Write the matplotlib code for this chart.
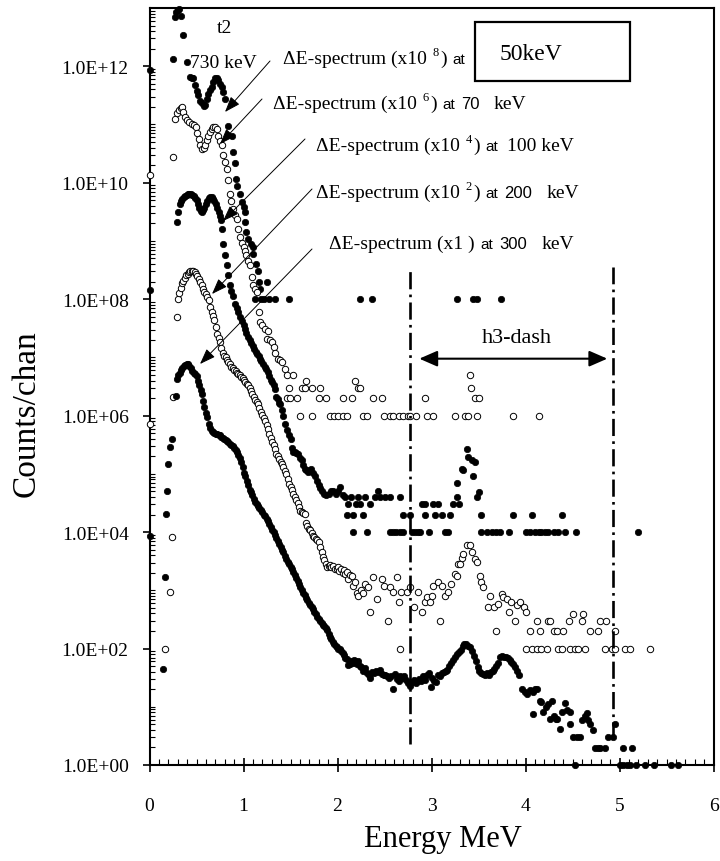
import numpy as np
import matplotlib
matplotlib.use('Agg')
import matplotlib.pyplot as plt
from matplotlib.ticker import FixedLocator, FuncFormatter, MultipleLocator
from matplotlib.patches import Rectangle, FancyArrowPatch

# ---------------- data: (energy MeV, log10 counts/chan as plotted) ----------------
# A: x10^8, 50 keV (filled)
a_pts = [(0.00,11.93),(0.253,12.13),(0.27,12.85),(0.285,12.93),(0.30,12.97),(0.315,12.99),(0.335,12.86),
 (0.36,12.53),(0.396,12.07),(0.43,11.82),(0.45,11.80),(0.466,11.79),(0.484,11.67),(0.50,11.58),(0.52,11.50),
 (0.54,11.41),(0.555,11.36),(0.575,11.32),(0.59,11.34),(0.61,11.44),(0.626,11.53),(0.645,11.59),(0.66,11.64),
 (0.68,11.73),(0.70,11.79),(0.715,11.79),(0.73,11.76),(0.75,11.70),(0.77,11.64),(0.785,11.56),(0.80,11.44),
 (0.84,10.98),(0.875,10.81),(0.89,10.53),(0.905,10.33),(0.92,10.07),(0.934,9.95),(0.96,9.80),(0.98,9.67),
 (1.00,9.58),(1.016,9.50),(1.02,9.33),(1.03,9.16),(1.05,9.04),(1.08,8.95),(1.10,8.90),(1.10,8.78),(1.13,8.60),
 (1.15,8.48),(1.17,8.30),(1.25,8.30),(1.175,8.18),
 (1.12,8.0),(1.19,8.0),(1.22,8.0),(1.27,8.0),(1.33,8.0),(1.48,8.0),(2.24,8.0),(2.37,8.0),(3.27,8.0),
 (3.44,8.0),(3.48,8.0),(3.74,8.0)]

# B: x10^6, 70 keV (open)
b_pts = [(0.00,10.13),(0.253,10.44),(0.27,11.10),(0.29,11.19),(0.31,11.24),(0.33,11.28),(0.345,11.30),(0.36,11.22),
 (0.38,11.13),(0.40,11.08),(0.42,11.04),(0.45,11.01),(0.47,10.99),(0.49,10.95),(0.51,10.86),(0.525,10.75),
 (0.54,10.64),(0.555,10.58),(0.575,10.60),(0.59,10.64),(0.61,10.73),(0.625,10.80),(0.64,10.87),(0.66,10.92),
 (0.68,10.96),(0.70,10.96),(0.715,10.93),(0.73,10.81),(0.75,10.72),(0.77,10.64),(0.785,10.47),(0.80,10.35),
 (0.82,10.24),(0.84,10.04),(0.856,9.81),(0.87,9.68),(0.89,9.55),(0.91,9.45),(0.93,9.38),(0.945,9.21),
 (0.96,9.07),(0.98,8.97),(1.00,8.89),(1.015,8.82),(1.03,8.75),(1.05,8.66),(1.07,8.58),(1.09,8.38),(1.10,8.24),
 (1.12,8.18),(1.14,8.13),(1.16,7.78),(1.18,7.61),(1.20,7.55),(1.23,7.49),(1.25,7.32),(1.26,7.46),(1.28,7.30),
 (1.30,7.27),(1.32,7.18),(1.34,7.08),(1.37,6.98),(1.39,6.95),(1.41,6.92),(1.44,6.80),(1.46,6.70),
 (1.53,6.70),(3.41,6.70),(1.67,6.60),(2.19,6.60),
 (1.48,6.48),(1.62,6.48),(1.65,6.48),(1.73,6.48),(1.81,6.48),(2.22,6.48),(2.24,6.48),(3.42,6.48),
 (1.46,6.30),(1.49,6.30),(1.57,6.30),(1.80,6.30),(1.88,6.30),(2.06,6.30),(2.15,6.30),(2.38,6.30),(2.47,6.30),
 (2.93,6.30),(3.46,6.30),(3.51,6.30),
 (1.60,6.0),(1.73,6.0),(1.92,6.0),(1.96,6.0),(2.01,6.0),(2.06,6.0),(2.10,6.0),(2.27,6.0),(2.31,6.0),(2.49,6.0),
 (2.56,6.0),(2.59,6.0),(2.65,6.0),(2.70,6.0),(2.75,6.0),(2.77,6.0),(2.83,6.0),(2.95,6.0),(3.02,6.0),(3.25,6.0),
 (3.36,6.0),(3.39,6.0),(3.48,6.0),(3.87,6.0),(4.14,6.0)]

# C: x10^4, 100 keV (filled)
c_pts = [(0.00,8.15),(0.29,9.32),(0.305,9.50),(0.32,9.64),(0.335,9.69),(0.35,9.72),(0.365,9.75),(0.38,9.77),
 (0.395,9.79),(0.41,9.80),(0.425,9.81),(0.44,9.80),(0.455,9.79),(0.47,9.77),(0.485,9.74),(0.50,9.70),(0.515,9.64),
 (0.53,9.57),(0.545,9.52),(0.555,9.50),(0.57,9.53),(0.585,9.57),(0.60,9.64),(0.615,9.69),(0.63,9.73),(0.645,9.75),
 (0.66,9.75),(0.675,9.72),(0.69,9.68),(0.705,9.63),(0.72,9.56),(0.735,9.50),(0.75,9.42),(0.765,9.36),(0.775,9.21),
 (0.785,8.95),(0.80,8.75),(0.82,8.58),(0.84,8.41),(0.856,8.24),(0.87,8.14),(0.89,8.06),(0.91,7.92),(0.93,7.84),
 (0.945,7.78),(0.96,7.70),(0.98,7.63),(1.00,7.56),(1.016,7.49),(1.03,7.42),(1.05,7.35),(1.065,7.30),(1.08,7.25),
 (1.10,7.20),(1.115,7.14),(1.13,7.09),(1.145,7.06),(1.16,7.03),(1.175,6.98),(1.19,6.93),(1.21,6.89),(1.225,6.84),
 (1.24,6.80),(1.26,6.75),(1.275,6.68),(1.29,6.62),(1.30,6.58),(1.32,6.52),(1.335,6.46),(1.35,6.32),(1.365,6.28),
 (1.38,6.22),(1.39,6.20),(1.405,6.10),(1.42,6.00),(1.44,5.86),(1.46,5.75),(1.48,5.66),(1.51,5.60),(1.52,5.45),
 (1.53,5.38),(1.545,5.37),(1.56,5.35),(1.58,5.34),(1.60,5.28),(1.62,5.23),(1.635,5.16),(1.65,5.09),(1.67,5.06),
 (1.69,5.03),(1.705,5.06),(1.72,5.09),(1.74,5.02),(1.76,4.97),(1.78,4.88),(1.80,4.80),(1.815,4.75),(1.83,4.71),
 (1.855,4.66),(1.88,4.63),(1.91,4.66),(1.93,4.71),(1.955,4.71),(1.98,4.66),(2.00,4.70),(2.03,4.78),(2.06,4.63),
 (2.08,4.60),(2.10,4.30),(2.115,4.48),(2.14,4.60),(2.17,4.30),(2.17,4.00),(2.20,4.48),(2.22,4.60),
 (2.24,4.48),(2.35,4.48),(2.90,4.48),(2.93,4.48),(3.02,4.48),(3.07,4.48),(3.23,4.48),(3.29,4.48),
 (2.27,4.30),(2.70,4.30),(2.77,4.30),(2.93,4.30),(3.04,4.30),(3.11,4.30),(3.20,4.30),(3.53,4.30),(3.87,4.30),
 (4.07,4.30),(4.39,4.30),
 (2.29,4.60),(2.40,4.60),(2.45,4.60),(2.50,4.60),(2.56,4.60),(2.66,4.60),(3.27,4.60),(2.43,4.70),
 (3.27,4.85),(3.32,5.09),(3.34,5.06),(3.375,5.42),(3.39,5.29),(3.43,5.23),(3.46,5.21),(3.44,4.97),(3.50,4.69),
 (3.48,4.60),
 (2.31,4.0),(2.56,4.0),(2.59,4.0),(2.62,4.0),(2.66,4.0),(2.70,4.0),(2.79,4.0),(2.82,4.0),(2.86,4.0),(2.88,4.0),
 (2.97,4.0),(3.14,4.0),(3.18,4.0),(3.53,4.0),(3.59,4.0),(3.64,4.0),(3.69,4.0),(3.73,4.0),(3.82,4.0),(4.01,4.0),
 (4.05,4.0),(4.10,4.0),(4.14,4.0),(4.17,4.0),(4.21,4.0),(4.24,4.0),(4.30,4.0),(4.35,4.0),(4.42,4.0),(4.54,4.0),
 (5.20,4.0)]

# D: x10^2, 200 keV (open)
d_pts = [(0.00,5.86),(0.165,1.99),(0.218,2.97),(0.236,3.91),(0.245,6.32),(0.29,7.69),(0.30,8.00),(0.315,8.10),
 (0.33,8.20),(0.345,8.27),(0.36,8.32),(0.375,8.37),(0.39,8.41),(0.405,8.44),(0.42,8.46),(0.435,8.48),(0.45,8.49),
 (0.465,8.48),(0.48,8.47),(0.495,8.44),(0.51,8.40),(0.525,8.35),(0.54,8.29),(0.555,8.24),(0.57,8.18),(0.585,8.12),
 (0.60,8.08),(0.615,8.04),(0.63,7.98),(0.645,7.86),(0.66,7.78),(0.675,7.71),(0.69,7.64),(0.705,7.52),(0.72,7.40),
 (0.735,7.33),(0.75,7.26),(0.765,7.16),(0.78,7.08),(0.795,7.03),(0.81,7.00),(0.825,6.96),(0.84,6.92),(0.855,6.88),
 (0.87,6.84),(0.885,6.81),(0.90,6.79),(0.915,6.77),(0.93,6.74),(0.945,6.72),(0.96,6.69),(0.975,6.66),(0.99,6.64),
 (1.005,6.61),(1.02,6.58),(1.035,6.55),(1.05,6.52),(1.065,6.47),(1.08,6.42),(1.095,6.37),(1.11,6.32),(1.125,6.27),
 (1.14,6.23),(1.155,6.20),(1.17,6.13),(1.185,6.06),(1.20,6.01),(1.215,5.96),(1.23,5.90),(1.245,5.84),(1.26,5.77),
 (1.275,5.69),(1.29,5.62),(1.305,5.55),(1.32,5.49),(1.335,5.42),(1.35,5.34),(1.365,5.30),(1.38,5.25),(1.395,5.21),
 (1.41,5.17),(1.425,5.11),(1.44,5.05),(1.455,4.99),(1.47,4.91),(1.485,4.83),(1.50,4.77),(1.515,4.72),(1.53,4.66),
 (1.545,4.60),(1.56,4.55),(1.575,4.50),(1.59,4.43),(1.605,4.37),(1.62,4.34),(1.635,4.33),(1.65,4.31),(1.665,4.16),
 (1.68,4.10),(1.695,4.06),(1.71,4.03),(1.725,3.99),(1.74,3.94),(1.755,3.91),(1.77,3.88),(1.785,3.86),(1.80,3.83),
 (1.815,3.74),(1.83,3.65),(1.845,3.58),(1.86,3.52),(1.875,3.46),(1.89,3.40),(1.905,3.42),(1.92,3.44),(1.935,3.40),
 (1.955,3.42),(1.97,3.36),(1.99,3.37),(2.005,3.40),(2.02,3.34),(2.04,3.37),(2.055,3.30),(2.07,3.35),(2.085,3.28),
 (2.10,3.31),(2.115,3.20),(2.13,3.27),(2.15,3.25),(2.17,3.08),(2.19,3.15),(2.21,2.95),(2.22,2.91),
 (2.25,3.00),(2.27,2.95),(2.29,3.11),(2.32,3.05),(2.35,2.62),(2.38,3.23),(2.42,2.85),(2.47,3.20),(2.49,3.08),
 (2.54,2.48),(2.56,3.05),(2.59,2.97),(2.63,3.23),(2.65,2.80),(2.665,2.00),(2.68,2.97),(2.74,2.97),(2.77,3.05),
 (2.81,2.71),(2.86,2.97),(2.90,2.62),(2.93,2.80),(2.95,2.88),(2.98,2.80),(3.00,2.91),(3.02,3.08),(3.07,3.14),
 (3.09,2.48),(3.11,3.08),(3.14,2.91),(3.18,2.97),(3.21,3.11),(3.25,3.28),(3.27,3.25),(3.285,3.45),(3.30,3.45),
 (3.32,3.55),(3.34,3.62),(3.375,3.77),(3.41,3.77),(3.43,3.65),(3.46,3.54),(3.48,3.48),(3.52,3.25),(3.53,3.14),
 (3.55,3.05),(3.60,2.71),(3.62,2.91),(3.66,2.71),(3.69,2.30),(3.71,2.77),(3.75,2.94),(3.76,2.88),(3.80,2.85),
 (3.82,2.62),(3.85,2.80),(3.89,2.48),(3.91,2.74),(3.94,2.80),(3.98,2.71),(4.00,2.62),(4.05,2.30),(4.12,2.48),
 (4.15,2.30),(4.24,2.48),(4.26,2.48),(4.30,2.30),(4.33,2.30),(4.40,2.30),(4.46,2.48),(4.51,2.60),(4.60,2.48),
 (4.61,2.60),(4.69,2.30),(4.77,2.30),(4.79,2.48),(4.86,2.48),(4.95,2.30),
 (4.01,2.0),(4.07,2.0),(4.12,2.0),(4.17,2.0),(4.23,2.0),(4.35,2.0),(4.39,2.0),(4.47,2.0),(4.53,2.0),(4.56,2.0),
 (4.63,2.0),(4.85,2.0),(4.92,2.0),(4.95,2.0),(5.06,2.0),(5.11,2.0),(5.32,2.0)]

# E: x1, 300 keV (filled)
e_pts = [(0.00,3.94),(0.145,1.65),(0.165,3.23),(0.18,4.31),(0.19,4.71),(0.197,5.17),(0.215,5.46),(0.235,5.60),
 (0.28,6.34),(0.29,6.63),(0.305,6.70),(0.32,6.74),(0.335,6.78),(0.35,6.82),(0.365,6.85),(0.38,6.87),(0.395,6.89),
 (0.41,6.89),(0.425,6.85),(0.44,6.81),(0.455,6.77),(0.47,6.74),(0.485,6.71),(0.50,6.68),(0.515,6.60),(0.53,6.53),
 (0.545,6.44),(0.555,6.37),(0.57,6.25),(0.585,6.15),(0.60,6.05),(0.615,5.97),(0.63,5.86),(0.645,5.78),(0.66,5.74),
 (0.675,5.72),(0.69,5.70),(0.705,5.69),(0.72,5.68),(0.735,5.67),(0.75,5.66),(0.765,5.64),(0.78,5.62),(0.795,5.60),
 (0.81,5.58),(0.825,5.56),(0.84,5.54),(0.855,5.52),(0.87,5.50),(0.885,5.47),(0.90,5.44),(0.915,5.41),(0.93,5.37),
 (0.945,5.32),(0.96,5.27),(0.975,5.21),(0.99,5.12),(1.005,5.02),(1.02,4.96),(1.035,4.88),(1.05,4.80),(1.065,4.73),
 (1.08,4.68),(1.095,4.63),(1.11,4.57),(1.125,4.52),(1.14,4.48),(1.155,4.44),(1.17,4.41),(1.185,4.38),(1.20,4.34),
 (1.215,4.30),(1.23,4.27),(1.245,4.23),(1.26,4.19),(1.275,4.14),(1.29,4.09),(1.305,4.04),(1.32,4.00),(1.335,3.95),
 (1.35,3.90),(1.365,3.85),(1.38,3.80),(1.395,3.75),(1.41,3.70),(1.425,3.65),(1.44,3.59),(1.455,3.54),(1.47,3.49),
 (1.485,3.45),(1.50,3.40),(1.515,3.36),(1.53,3.31),(1.545,3.26),(1.56,3.21),(1.575,3.16),(1.59,3.11),(1.605,3.06),
 (1.62,3.01),(1.635,2.96),(1.65,2.92),(1.665,2.87),(1.68,2.83),(1.695,2.79),(1.71,2.75),(1.725,2.71),(1.74,2.68),
 (1.755,2.63),(1.77,2.59),(1.785,2.55),(1.80,2.51),(1.815,2.47),(1.83,2.43),(1.845,2.40),(1.86,2.38),(1.875,2.36),
 (1.89,2.31),(1.905,2.25),(1.92,2.20),(1.935,2.16),(1.95,2.12),(1.965,2.08),(1.98,2.05),(1.995,2.02),(2.01,2.00),
 (2.025,1.99),(2.04,1.96),(2.055,1.93),(2.07,1.89),(2.085,1.84),(2.10,1.82),(2.115,1.72),(2.13,1.74),(2.145,1.78),
 (2.16,1.76),(2.175,1.80),(2.19,1.78),(2.205,1.74),(2.22,1.79),(2.235,1.70),
 (2.25,1.68),(2.27,1.62),(2.29,1.66),(2.31,1.58),(2.33,1.55),(2.35,1.50),(2.37,1.60),(2.39,1.58),(2.41,1.62),
 (2.43,1.60),(2.45,1.63),(2.47,1.56),(2.49,1.54),(2.51,1.55),(2.53,1.52),(2.55,1.50),(2.57,1.53),(2.59,1.31),
 (2.61,1.56),(2.63,1.48),(2.65,1.45),(2.67,1.52),(2.69,1.50),(2.71,1.53),(2.73,1.46),(2.75,1.40),(2.77,1.36),
 (2.79,1.42),(2.81,1.46),(2.83,1.40),(2.85,1.44),(2.87,1.48),(2.89,1.44),(2.91,1.52),(2.93,1.46),(2.95,1.55),
 (2.97,1.58),(2.99,1.34),(3.01,1.50),(3.03,1.45),(3.05,1.42),(3.07,1.55),(3.09,1.52),(3.11,1.58),(3.13,1.60),
 (3.15,1.62),(3.17,1.64),(3.19,1.70),(3.21,1.75),(3.23,1.80),(3.25,1.85),(3.27,1.90),(3.29,1.94),(3.31,1.98),
 (3.33,2.04),(3.35,2.07),(3.37,2.08),(3.39,2.05),(3.41,2.02),(3.43,1.95),(3.45,1.88),(3.47,1.78),(3.49,1.68),
 (3.51,1.62),(3.53,1.58),(3.55,1.56),(3.57,1.55),(3.59,1.58),(3.61,1.55),(3.63,1.60),(3.65,1.62),(3.67,1.65),
 (3.69,1.70),(3.71,1.76),(3.73,1.85),(3.75,1.88),(3.77,1.86),(3.79,1.85),(3.81,1.83),(3.83,1.80),(3.85,1.77),
 (3.87,1.73),(3.89,1.68),(3.91,1.62),(3.93,1.55),
 (3.96,1.31),(3.99,1.26),(4.02,1.22),(4.05,1.28),(4.08,1.25),(4.10,1.30),(4.12,1.31),(4.08,0.88),(4.15,1.10),
 (4.17,1.08),(4.19,0.91),(4.22,1.00),(4.24,1.05),(4.26,0.79),(4.28,1.10),(4.30,0.85),(4.32,0.79),(4.34,0.79),
 (4.37,0.62),(4.39,0.91),(4.42,1.07),(4.44,0.95),(4.47,0.91),(4.47,0.70),(4.51,0.48),(4.55,0.48),(4.58,0.48),
 (4.60,0.78),(4.63,0.85),(4.65,0.90),(4.67,0.78),(4.69,0.70),(4.72,0.60),(4.74,0.30),(4.77,0.30),(4.79,0.30),
 (4.85,0.30),(4.88,0.48),(4.93,0.48),(4.95,0.70),(5.04,0.30),(5.13,0.30),
 (4.53,0.0),(5.00,0.0),(5.04,0.0),(5.08,0.0),(5.11,0.0),(5.18,0.0),(5.27,0.0),(5.37,0.0),(5.55,0.0),(5.62,0.0)]

y_major = [1e0, 1e2, 1e4, 1e6, 1e8, 1e10, 1e12]
x_major = [0, 1, 2, 3, 4, 5, 6]
window_lo, window_hi = 2.77, 4.93   # h3-dash window (MeV)

# ---------------- figure ----------------
W, H = 720, 862
SERIF = 'Liberation Serif'
SANS = 'Liberation Sans'
fig = plt.figure(figsize=(W / 100, H / 100), dpi=100)
ax = fig.add_axes([149.5 / W, 1 - 766 / H, 564 / W, 757 / H])
ax.set_yscale('log')
ax.set_xlim(0, 6)
ax.set_ylim(1, 1e13)

def unzip(pts):
    xs = np.array([p[0] for p in pts])
    ys = 10.0 ** np.array([p[1] for p in pts])
    return xs, ys

filled = dict(ls='none', marker='o', ms=4.6, mfc='black', mec='black', mew=0.5, clip_on=False, zorder=3)
hollow = dict(ls='none', marker='o', ms=4.6, mfc='white', mec='black', mew=0.7, clip_on=False, zorder=3)
for pts, style in [(a_pts, filled), (b_pts, hollow), (c_pts, filled), (d_pts, hollow), (e_pts, filled)]:
    xs, ys = unzip(pts)
    ax.plot(xs, ys, **style)

# ticks
ax.yaxis.set_major_locator(FixedLocator(y_major))
minors = [k * 10.0 ** n for n in range(0, 13) for k in range(1, 10) if not (k == 1 and n % 2 == 0)]
ax.yaxis.set_minor_locator(FixedLocator(minors))
ax.yaxis.set_major_formatter(FuncFormatter(lambda v, p: f"{v:.1E}"))
ax.yaxis.set_minor_formatter(FuncFormatter(lambda v, p: ""))
ax.xaxis.set_major_locator(FixedLocator(x_major))
ax.xaxis.set_minor_locator(MultipleLocator(0.1))
ax.xaxis.set_major_formatter(FuncFormatter(lambda v, p: f"{int(round(v))}"))
ax.tick_params(axis='y', which='major', direction='out', length=5, width=1.2, pad=10, labelsize=14)
ax.tick_params(axis='y', which='minor', direction='in', length=3.6, width=0.8)
ax.tick_params(axis='x', which='major', direction='inout', length=9.5, width=1.2, pad=18.5, labelsize=14)
ax.tick_params(axis='x', which='minor', direction='in', length=4, width=0.8)
for lab in ax.get_xticklabels() + ax.get_yticklabels():
    lab.set_family(SERIF)
for s in ax.spines.values():
    s.set_linewidth(1.5)

ax.set_xlabel('Energy MeV', family=SERIF, size=22)
ax.xaxis.set_label_coords(0.52, -0.078)
ax.set_ylabel('Counts/chan', family=SERIF, size=24)
ax.yaxis.set_label_coords(-0.192, 0.466)

# window lines + double arrow
dd = (0, (6.5, 2.0, 1.0, 2.0))
ax.plot([window_lo, window_lo], [2.3, 3.6e8], color='black', lw=1.9, ls=dd, zorder=4)
ax.plot([window_hi, window_hi], [2.8, 3.6e8], color='black', lw=1.9, ls=dd, zorder=4)
ax.annotate('', xy=(window_hi - 0.06, 9.5e6), xytext=(window_lo + 0.10, 9.5e6),
            arrowprops=dict(arrowstyle='<|-|>,head_length=0.55,head_width=0.24', lw=1.5,
                            color='black', mutation_scale=20, shrinkA=0, shrinkB=0))
ax.text(3.91, 2.2e7, 'h3-dash', family=SERIF, size=16, ha='center', va='center')

# ---------------- annotations (figure pixel positions, y from top) ----------------
renderer = fig.canvas.get_renderer()

def chain(x0, base, pieces):
    x = x0
    for gap, s, fam, size, rise in pieces:
        x += gap
        t = fig.text(x / W, 1 - (base - rise) / H, s, family=fam, size=size, ha='left', va='baseline')
        x = t.get_window_extent(renderer=renderer).x1

def sup(d):
    return (6, d, SERIF, 9, 8)

chain(283, 64, [(0, 'ΔE-spectrum (x10', SERIF, 14, 0), sup('8'), (1, ')', SERIF, 14, 0),
                (6, 'at', SANS, 11, 0)])
chain(272.7, 109, [(0, 'ΔE-spectrum (x10', SERIF, 14, 0), sup('6'), (1, ')', SERIF, 14, 0),
                   (6, 'at', SANS, 11, 0), (6, '70', SANS, 12, 0), (14, 'keV', SERIF, 14, 0)])
chain(316, 151, [(0, 'ΔE-spectrum (x10', SERIF, 14, 0), sup('4'), (1, ')', SERIF, 14, 0),
                 (6, 'at', SANS, 11, 0), (8, '100 keV', SERIF, 14, 0)])
chain(316, 198, [(0, 'ΔE-spectrum (x10', SERIF, 14, 0), sup('2'), (1, ')', SERIF, 14, 0),
                 (6, 'at', SANS, 11, 0), (6, '200', SANS, 12, 0), (14, 'keV', SERIF, 14, 0)])
chain(329, 249, [(0, 'ΔE-spectrum (x1 )', SERIF, 14, 0),
                 (6, 'at', SANS, 11, 0), (6, '300', SANS, 12, 0), (14, 'keV', SERIF, 14, 0)])

fig.add_artist(Rectangle((475 / W, 1 - 82 / H), 155 / W, 59 / H, transform=fig.transFigure,
                         fill=False, lw=1.6, edgecolor='black'))
fig.text(500 / W, 1 - 60 / H, '50keV', family=SERIF, size=17, ha='left', va='baseline')
fig.text(224.5 / W, 1 - 33 / H, 't2', family=SERIF, size=14, ha='center', va='baseline')
fig.text(223.5 / W, 1 - 68 / H, '730 keV', family=SERIF, size=14, ha='center', va='baseline')

arrows = [((270, 62), (225, 113)), ((262, 100), (220, 145)), ((305, 140), (223, 222)),
          ((312, 190), (212, 295)), ((312, 250), (200, 365))]
for (tx, ty), (hx, hy) in arrows:
    fig.add_artist(FancyArrowPatch(
        (tx, H - ty), (hx, H - hy), transform=None,
        arrowstyle='-|>,head_length=0.6,head_width=0.22', mutation_scale=16,
        lw=0.7, color='black', shrinkA=0, shrinkB=0, zorder=5))

fig.savefig('out.png', dpi=100)
